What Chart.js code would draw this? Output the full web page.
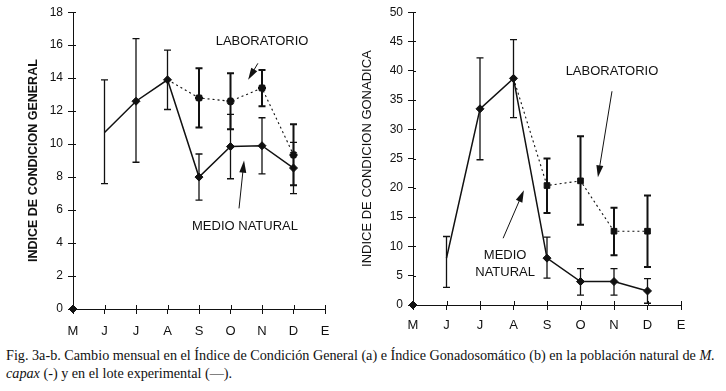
<!DOCTYPE html>
<html>
<head>
<meta charset="utf-8">
<script src="https://cdn.jsdelivr.net/npm/chart.js@4.4.1/dist/chart.umd.min.js"></script>
<style>
    html, body { margin: 0; padding: 0; background: #fff; }
    #wrap { position: relative; width: 726px; height: 391px; overflow: hidden; }
    #cA { position: absolute; left: 0; top: 0; }
    #cB { position: absolute; left: 360px; top: 0; }
    #cap { position: absolute; left: 6px; top: 346px; width: 720px; white-space: nowrap;
           font: 14.2px "Liberation Serif", "Times New Roman", serif; line-height: 18px; color: #111; }
</style>
</head>
<body>
<div id="wrap">
    <canvas id="cA" width="360" height="345"></canvas>
    <canvas id="cB" width="366" height="345"></canvas>
    <div id="cap">Fig. 3a-b. Cambio mensual en el Índice de Condición General (a) e Índice Gonadosomático (b) en la población natural de <i>M.</i><br><i>capax</i> (-) y en el lote experimental (—).</div>
</div>
<script>
    'use strict';
    var months = ['M', 'J', 'J', 'A', 'S', 'O', 'N', 'D', 'E'];

    // Fig. 3a - indice de condicion general
    var genNatural     = [0, 10.7, 12.6, 13.9, 8.0, 9.85, 9.9, 8.55, null];
    var genNaturalLow  = [null, 7.6, 8.9, 12.1, 6.6, 7.9, 8.2, 7.0, null];
    var genNaturalHigh = [null, 13.9, 16.4, 15.7, 9.4, 11.8, 11.6, 10.1, null];
    var genLab         = [null, null, null, 13.9, 12.8, 12.6, 13.4, 9.35, null];
    var genLabLow      = [null, null, null, null, 11.0, 10.9, 12.3, 7.5, null];
    var genLabHigh     = [null, null, null, null, 14.6, 14.3, 14.5, 11.2, null];

    // Fig. 3b - indice de condicion gonadica
    var gonNatural     = [0, 8.0, 33.5, 38.7, 8.0, 4.0, 4.0, 2.4, null];
    var gonNaturalLow  = [null, 3.0, 24.8, 32.0, 4.6, 1.7, 1.7, 0.3, null];
    var gonNaturalHigh = [null, 11.7, 42.2, 45.3, 11.6, 6.2, 6.2, 4.5, null];
    var gonLab         = [null, null, null, 38.7, 20.4, 21.2, 12.6, 12.6, null];
    var gonLabLow      = [null, null, null, null, 15.7, 13.7, 8.5, 6.5, null];
    var gonLabHigh     = [null, null, null, null, 25.0, 28.8, 16.6, 18.7, null];

    var INK = '#111';

    var errorBars = {
        id: 'errorBars',
        afterDatasetsDraw: function (chart) {
            var ctx = chart.ctx, xs = chart.scales.x, ys = chart.scales.y;
            chart.data.datasets.forEach(function (ds) {
                if (!ds.errLow) return;
                ctx.save();
                ctx.strokeStyle = INK;
                ctx.lineWidth = ds.errWidth || 1.3;
                ds.errLow.forEach(function (lo, j) {
                    var hi = ds.errHigh[j];
                    if (lo == null || hi == null) return;
                    var px = xs.getPixelForValue(j);
                    var y1 = ys.getPixelForValue(lo), y2 = ys.getPixelForValue(hi);
                    ctx.beginPath();
                    ctx.moveTo(px, y1); ctx.lineTo(px, y2);
                    ctx.moveTo(px - 3.5, y1); ctx.lineTo(px + 3.5, y1);
                    ctx.moveTo(px - 3.5, y2); ctx.lineTo(px + 3.5, y2);
                    ctx.stroke();
                });
                ctx.restore();
            });
        }
    };

    // inner half of the axis ticks, so they cross the axis like "+"
    var crossTicks = {
        id: 'crossTicks',
        afterDraw: function (chart) {
            var ctx = chart.ctx, xs = chart.scales.x, ys = chart.scales.y, a = chart.chartArea;
            ctx.save();
            ctx.strokeStyle = INK;
            ctx.lineWidth = 1;
            ctx.beginPath();
            xs.ticks.forEach(function (t, i) {
                var px = Math.round(xs.getPixelForTick(i)) + 0.5;
                ctx.moveTo(px, a.bottom); ctx.lineTo(px, a.bottom - 4);
            });
            ys.ticks.forEach(function (t, i) {
                var py = Math.round(ys.getPixelForTick(i)) + 0.5;
                ctx.moveTo(a.left, py); ctx.lineTo(a.left + 3, py);
            });
            ctx.stroke();
            ctx.restore();
        }
    };

    var notes = {
        id: 'notes',
        afterDraw: function (chart, args, opts) {
            var ctx = chart.ctx, xs = chart.scales.x, ys = chart.scales.y;
            ctx.save();
            ctx.fillStyle = INK;
            ctx.strokeStyle = INK;
            ctx.font = '13px "Liberation Sans", Arial, sans-serif';
            ctx.textAlign = 'center';
            ctx.textBaseline = 'middle';
            (opts.texts || []).forEach(function (t) {
                ctx.fillText(t.text, xs.getPixelForValue(t.x), ys.getPixelForValue(t.y));
            });
            (opts.arrows || []).forEach(function (a) {
                var x1 = xs.getPixelForValue(a.x1), y1 = ys.getPixelForValue(a.y1);
                var x2 = xs.getPixelForValue(a.x2), y2 = ys.getPixelForValue(a.y2);
                var ang = Math.atan2(y2 - y1, x2 - x1), c = Math.cos(ang), s = Math.sin(ang);
                ctx.lineWidth = 1;
                ctx.beginPath();
                ctx.moveTo(x1, y1);
                ctx.lineTo(x2 - 8 * c, y2 - 8 * s);
                ctx.stroke();
                ctx.beginPath();
                ctx.moveTo(x2, y2);
                ctx.lineTo(x2 - 12 * c + 3.5 * s, y2 - 12 * s - 3.5 * c);
                ctx.lineTo(x2 - 12 * c - 3.5 * s, y2 - 12 * s + 3.5 * c);
                ctx.closePath();
                ctx.fill();
            });
            ctx.restore();
        }
    };

    function makeChart(id, cfg) {
        return new Chart(document.getElementById(id), {
            type: 'line',
            data: {
                labels: months,
                datasets: [
                    {
                        label: 'Medio natural',
                        data: cfg.natural,
                        errLow: cfg.naturalLow,
                        errHigh: cfg.naturalHigh,
                        borderColor: INK,
                        borderWidth: 1.5,
                        segment: {
                            borderColor: function (c) { return c.p0DataIndex === 0 ? 'rgba(0,0,0,0)' : INK; }
                        },
                        pointStyle: 'rectRot',
                        pointRadius: [4, 0, 4, 4, 4, 4, 4, 4, 0],
                        pointBackgroundColor: INK,
                        pointBorderColor: INK,
                        pointBorderWidth: 1,
                        clip: false
                    },
                    {
                        label: 'Laboratorio',
                        data: cfg.lab,
                        errLow: cfg.labLow,
                        errHigh: cfg.labHigh,
                        errWidth: 2,
                        borderColor: INK,
                        borderWidth: 1.1,
                        borderDash: [2, 3],
                        pointStyle: cfg.labPoint,
                        pointRadius: [0, 0, 0, 0, 4, 4, 4, 4, 0],
                        pointBackgroundColor: INK,
                        pointBorderColor: INK,
                        pointBorderWidth: cfg.labPoint === 'star' ? 2.4 : 1,
                        clip: false
                    }
                ]
            },
            options: {
                responsive: false,
                animation: false,
                devicePixelRatio: 1,
                layout: { padding: cfg.padding },
                plugins: {
                    legend: { display: false },
                    tooltip: { enabled: false },
                    notes: { texts: cfg.texts, arrows: cfg.arrows }
                },
                scales: {
                    x: {
                        type: 'category',
                        offset: false,
                        afterFit: function (s) { s.height = cfg.xHeight; },
                        grid: { drawOnChartArea: false, color: INK, tickLength: 5 },
                        border: { color: INK, width: 1 },
                        ticks: {
                            color: INK, padding: cfg.xPad, autoSkip: false, maxRotation: 0,
                            font: { family: '"Liberation Sans", Arial, sans-serif', size: 13 }
                        }
                    },
                    y: {
                        min: 0,
                        max: cfg.yMax,
                        afterFit: function (s) { s.width = cfg.yWidth; },
                        grid: { drawOnChartArea: false, color: INK, tickLength: 5 },
                        border: { color: INK, width: 1 },
                        ticks: {
                            stepSize: cfg.yStep, color: INK, padding: 5,
                            font: { family: '"Liberation Sans Narrow", "Liberation Sans", Arial, sans-serif', size: 12 }
                        },
                        title: {
                            display: true,
                            text: cfg.yTitle,
                            color: INK,
                            padding: { top: cfg.titlePad, bottom: 0 },
                            font: { family: '"Liberation Sans", Arial, sans-serif', size: cfg.titleSize, weight: cfg.titleWeight }
                        }
                    }
                }
            },
            plugins: [errorBars, crossTicks, notes]
        });
    }

    makeChart('cA', {
        natural: genNatural, naturalLow: genNaturalLow, naturalHigh: genNaturalHigh,
        lab: genLab, labLow: genLabLow, labHigh: genLabHigh,
        labPoint: 'star',
        yMax: 18, yStep: 2,
        yTitle: 'INDICE DE CONDICION GENERAL', titleSize: 12.5, titleWeight: 'bold', titlePad: 26,
        yWidth: 73, xHeight: 36, xPad: 10,
        padding: { left: 0, right: 35, top: 11, bottom: 0 },
        texts: [
            { text: 'LABORATORIO', x: 6.0, y: 16.2 },
            { text: 'MEDIO NATURAL', x: 5.46, y: 5.0 }
        ],
        arrows: [
            { x1: 5.87, y1: 14.9, x2: 5.56, y2: 13.9 },
            { x1: 5.27, y1: 6.1, x2: 5.43, y2: 9.0 }
        ]
    });

    makeChart('cB', {
        natural: gonNatural, naturalLow: gonNaturalLow, naturalHigh: gonNaturalHigh,
        lab: gonLab, labLow: gonLabLow, labHigh: gonLabHigh,
        labPoint: 'rect',
        yMax: 50, yStep: 5,
        yTitle: 'INDICE DE CONDICION GONADICA', titleSize: 13, titleWeight: 'normal', titlePad: 0,
        yWidth: 53, xHeight: 40, xPad: 8,
        padding: { left: 0, right: 45, top: 7, bottom: 0 },
        texts: [
            { text: 'LABORATORIO', x: 5.94, y: 39.9 },
            { text: 'MEDIO', x: 2.75, y: 8.4 },
            { text: 'NATURAL', x: 2.75, y: 5.5 }
        ],
        arrows: [
            { x1: 5.94, y1: 36.5, x2: 5.52, y2: 21.8 },
            { x1: 2.69, y1: 11.4, x2: 3.31, y2: 19.6 }
        ]
    });
</script>
</body>
</html>
